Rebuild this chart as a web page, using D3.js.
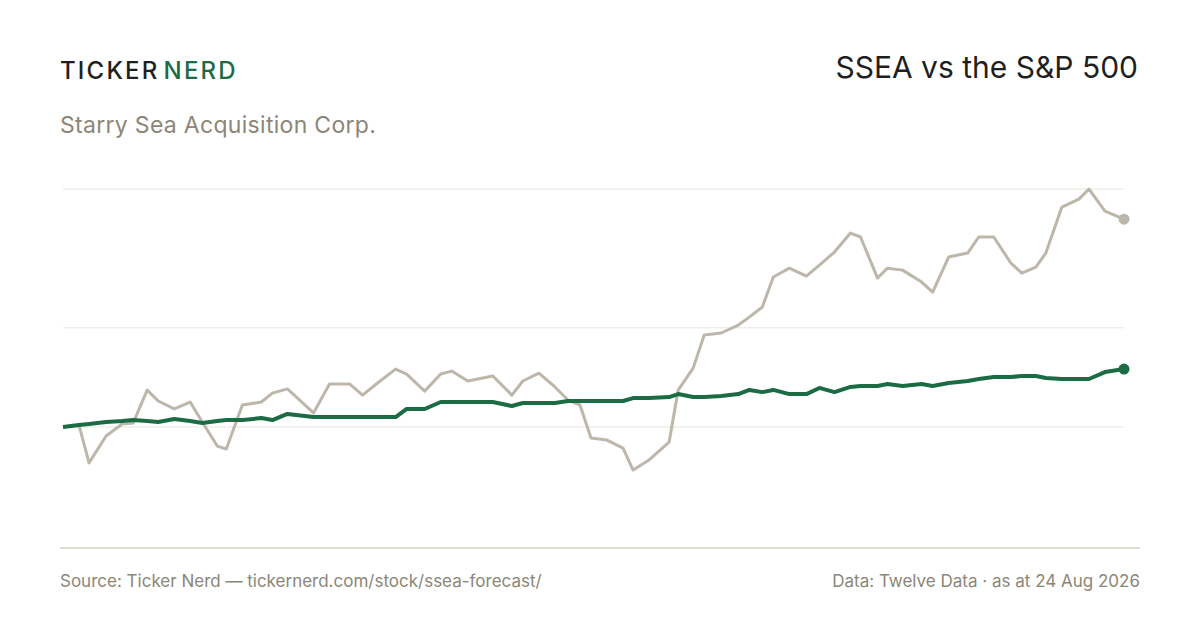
<!DOCTYPE html>
<html>
<head>
<meta charset="utf-8">
<script src="https://cdn.jsdelivr.net/npm/d3@7"></script>
<style>
  body { margin: 0; background: #fff; }
  svg text { font-family: Inter, "Noto Sans", sans-serif; }
</style>
</head>
<body>
<svg id="chart" width="1200" height="630"></svg>
<script>
// trading-day offsets from start of window
var days = [0,16,26,43,59,70,84,95,111,127,139,154,163,179,198,209,224,250,266,286,299,314,332,343,361,377,388,404,429,448,459,475,491,504,516,527,543,559,569,585,605,614,629,640,657,674,685,698,709,725,742,755,770,786,796,813,823,838,857,868,884,903,914,929,946,957,971,981,997,1014,1024,1040,1059];
// % return since start
var sseaValues = [0,1,-18.1,-4.5,1.5,2,18.6,13.1,9.1,12.6,2.5,-9.6,-11.1,11.1,12.6,17.1,19.2,7.1,21.7,21.7,16.1,22.2,29.2,26.7,18.1,26.7,28.2,23.2,25.7,16.1,23.2,27.2,20.2,13.6,11.1,-5.5,-6.6,-10.6,-21.7,-16.6,-7.6,18.6,29.7,46.4,47.4,51.4,55.4,60.5,75.6,80.1,76.1,81.6,88.2,97.8,95.8,75.1,80.1,79.1,73.1,68,85.7,87.7,95.8,95.8,82.7,77.6,80.6,87.7,110.9,114.9,120,108.9,104.8];
var spxValues = [0,1,1.5,2.5,3,3.5,3,2.5,4,3,2,3,3.5,3.5,4.5,3.5,6.6,5,5,5,5,5,5,9.1,9.1,12.6,12.6,12.6,12.6,10.6,12.1,12.1,12.1,13.1,13.1,13.1,13.1,13.1,14.6,14.6,15.1,16.6,15.1,15.1,15.6,16.6,18.7,17.6,18.7,16.6,16.6,19.7,17.6,20.2,20.7,20.7,21.7,20.7,21.7,20.7,22.2,23.2,24.2,25.2,25.2,25.7,25.7,24.7,24.2,24.2,24.2,27.7,29.2];
var gridTicks = [0, 50, 120];

var green = "#1b6b45", grey = "#bdb6aa", textGrey = "#8b8678";
var svg = d3.select("#chart");

var x = d3.scaleLinear().domain([0, 1059]).range([63, 1124]);
var y = d3.scaleLinear().domain([-61, 120]).range([548, 189]);

svg.append("g").selectAll("line").data(gridTicks).join("line")
    .attr("x1", 63).attr("x2", 1124)
    .attr("y1", function(d) { return y(d); }).attr("y2", function(d) { return y(d); })
    .attr("stroke", "#e8e5df").attr("stroke-width", 1);

svg.append("line").attr("x1", 60).attr("x2", 1140).attr("y1", 548).attr("y2", 548)
    .attr("stroke", "#d6d1c6").attr("stroke-width", 1.5);

function drawSeries(vals, color, width) {
    var line = d3.line()
        .x(function(d, i) { return x(days[i]); })
        .y(function(d) { return y(d); });
    svg.append("path").datum(vals).attr("d", line)
        .attr("fill", "none").attr("stroke", color)
        .attr("stroke-width", width).attr("stroke-linejoin", "round");
    svg.append("circle")
        .attr("cx", x(days[days.length - 1])).attr("cy", y(vals[vals.length - 1]))
        .attr("r", 5.5).attr("fill", color);
}
drawSeries(sseaValues, grey, 3);
drawSeries(spxValues, green, 4);

// header
var logo = svg.append("text").attr("x", 60).attr("y", 79)
    .attr("font-size", 24).attr("letter-spacing", 2.2).attr("font-weight", 500);
logo.append("tspan").attr("fill", "#1f1f1f").text("TICKER");
logo.append("tspan").attr("fill", green).attr("dx", 4).text("NERD");

svg.append("text").attr("x", 1138).attr("y", 78).attr("text-anchor", "end")
    .attr("font-size", 30).attr("fill", "#1f1f1f").text("SSEA vs the S&P 500");

svg.append("text").attr("x", 60).attr("y", 133)
    .attr("font-size", 23).attr("fill", textGrey).attr("letter-spacing", 0.3)
    .text("Starry Sea Acquisition Corp.");

// footer
svg.append("text").attr("x", 60).attr("y", 587)
    .attr("font-size", 17).attr("fill", textGrey)
    .text("Source: Ticker Nerd — tickernerd.com/stock/ssea-forecast/");
svg.append("text").attr("x", 1140).attr("y", 587).attr("text-anchor", "end")
    .attr("font-size", 17).attr("fill", textGrey)
    .text("Data: Twelve Data · as at 24 Aug 2026");
</script>
</body>
</html>
